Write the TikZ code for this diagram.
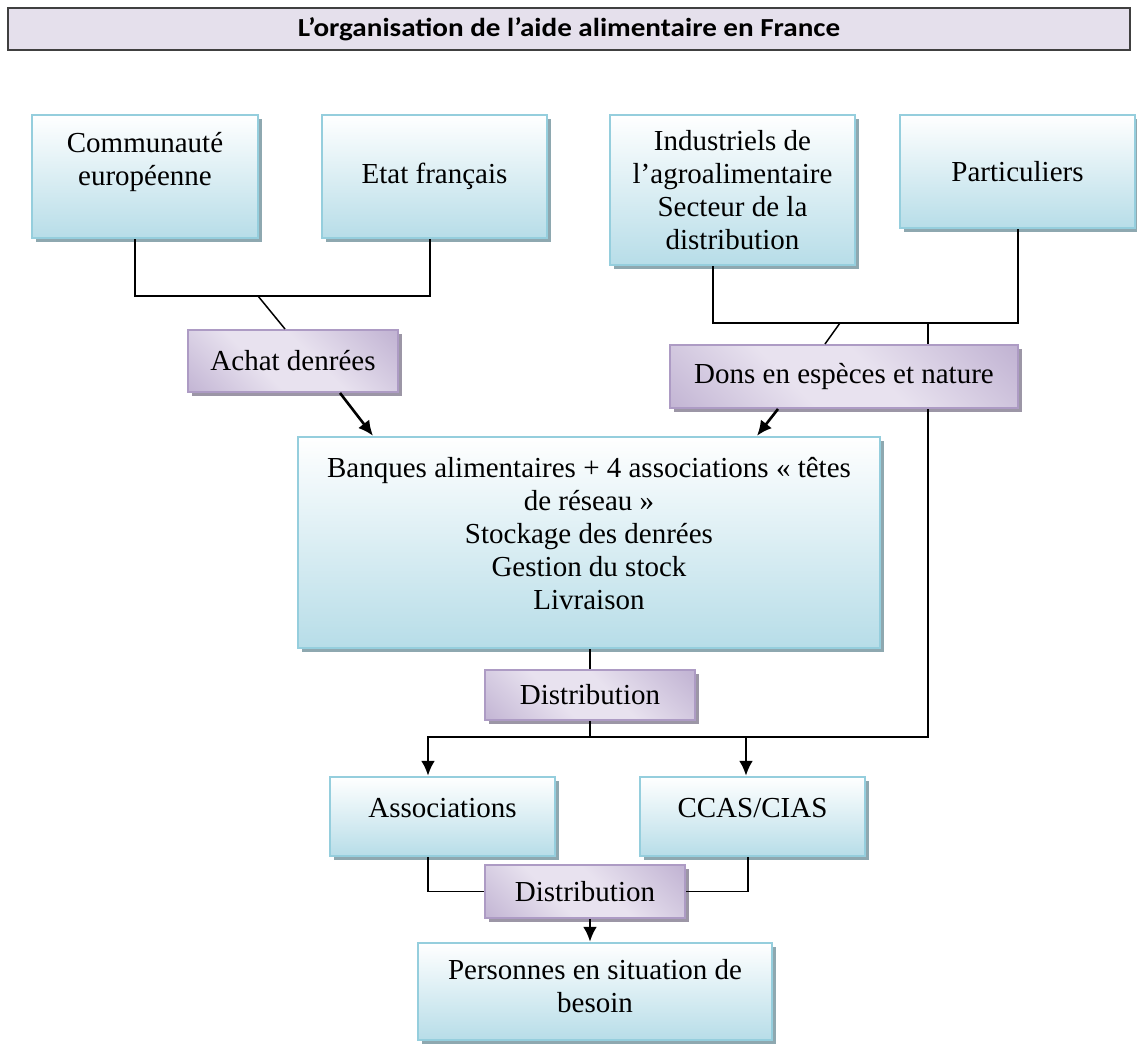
\documentclass[tikz,border=0pt]{standalone}
\usepackage{fontspec}
\setmainfont{Liberation Serif}
\newfontfamily\titrefont{Carlito}
\usepackage{tikz}
\usetikzlibrary{arrows.meta,shadows,calc}
\definecolor{bleubas}{HTML}{B7DDE8}
\definecolor{bleubord}{HTML}{95CEDD}
\definecolor{bleuombre}{HTML}{8EA8B0}
\definecolor{violetclair}{HTML}{E8E2EF}
\definecolor{violetfonce}{HTML}{AD9BC4}
\definecolor{violetombre}{HTML}{9C96A6}
\definecolor{titrefond}{HTML}{E5E0EC}
\pgfdeclareverticalshading{violetdiag}{100bp}{color(0bp)=(violetfonce); color(40bp)=(violetclair);
    color(56bp)=(violetclair); color(100bp)=(violetfonce)}

\begin{document}
\begin{tikzpicture}[x=0.5pt,y=-0.5pt,>={Latex[length=7.5pt,width=7pt]},
    boite/.style={rectangle,draw=bleubord,line width=1.2pt,top color=white,bottom color=bleubas,
        align=center,inner sep=2pt,font=\fontsize{14.5}{16.5}\selectfont,
        drop shadow={shadow xshift=1.8pt,shadow yshift=-1.8pt,fill=bleuombre,opacity=1}},
    etiquette/.style={rectangle,draw=violetfonce,line width=1pt,shade,shading=violetdiag,shading angle=-45,
        inner sep=2pt,font=\fontsize{14.5}{16.5}\selectfont,
        drop shadow={shadow xshift=1.8pt,shadow yshift=-1.8pt,fill=violetombre,opacity=1}},
    lien/.style={line width=0.75pt},
    fleche/.style={->,line width=1.3pt}]
    \useasboundingbox (0,0) rectangle (1137,1044);

    % titre
    \node[draw=black!75,line width=0.8pt,fill=titrefond,minimum width=561pt,minimum height=21pt,inner sep=0pt,
        font=\titrefont\bfseries\fontsize{13}{15}\selectfont] (titre) at (569,29)
        {\scalebox{1.12}[1]{L’organisation de l’aide alimentaire en France}};

    % sources
    \node[boite,minimum width=113pt,minimum height=61.5pt,text depth=18pt] (comm) at (145,176.5) {Communauté\\européenne};
    \node[boite,minimum width=112.5pt,minimum height=61.5pt] (etat) at (434.5,176.5) {Etat français};
    \node[boite,minimum width=122.5pt,minimum height=75pt] (indus) at (732.5,190)
        {Industriels de\\l’agroalimentaire\\Secteur de la\\distribution};
    \node[boite,minimum width=117.5pt,minimum height=56.5pt] (partic) at (1017.5,171.5) {Particuliers};

    % etiquettes du haut
    \node[etiquette,minimum width=105pt,minimum height=31pt] (achat) at (293,361) {Achat denrées};
    \node[etiquette,minimum width=174pt,minimum height=31.5pt] (dons) at (844,376.5) {Dons en espèces et nature};

    % centre
    \node[boite,minimum width=291pt,minimum height=105.5pt,text depth=9.5pt] (banq) at (589,542.5)
        {Banques alimentaires + 4 associations «~têtes\\de réseau~»\\Stockage des denrées\\Gestion du stock\\Livraison};
    \node[etiquette,minimum width=105pt,minimum height=25pt] (distA) at (590,695) {Distribution};

    % relais
    \node[boite,minimum width=112.5pt,minimum height=39.5pt,text depth=8.5pt] (assoc) at (442.5,816.5) {Associations};
    \node[boite,minimum width=112.5pt,minimum height=39.5pt,text depth=8.5pt] (ccas) at (752.5,816.5) {CCAS/CIAS};
    \node[etiquette,minimum width=100pt,minimum height=26.5pt] (distB) at (585,891.5) {Distribution};
    \node[boite,minimum width=177pt,minimum height=48.5pt,text depth=6pt] (pers) at (595,991.5)
        {Personnes en situation de\\besoin};

    % jonctions
    \coordinate (jA) at (258,296);
    \coordinate (jB) at (840,323);
    \coordinate (jD) at (928,323);
    \coordinate (jE) at (590,737);

    % achats
    \draw[lien] ($(comm.south)+(-10,0)$) |- (jA) -| ($(etat.south)+(-4.5,0)$);
    \draw[lien] (jA) -- ($(achat.north)+(-8,0)$);
    \draw[fleche] ($(achat.south)+(47,0)$) -- ($(banq.north)+(-216,0)$);

    % dons
    \draw[lien] ($(indus.south)+(-19.5,0)$) |- (jB) -| ($(partic.south)+(0.5,0)$);
    \draw[lien] (jB) -- ($(dons.north)+(-19,0)$);
    \draw[fleche] ($(dons.south)+(-66,0)$) -- ($(banq.north)+(168,0)$);
    \draw[lien] (jD) -- (jD |- dons.north);
    \draw[lien] (jD |- dons.south) |- (jE);

    % distribution
    \draw[lien] (banq.south -| jE) -- (distA.north -| jE);
    \draw[lien] (distA.south -| jE) -- (jE);
    \draw[fleche] (jE) -| ($(assoc.north)+(-14.5,0)$);
    \draw[fleche] (jE) -| ($(ccas.north)+(-6.5,0)$);

    % vers les personnes
    \draw[lien] ($(assoc.south)+(-14.5,0)$) |- (distB.west);
    \draw[lien] ($(ccas.south)+(-4.5,0)$) |- (distB.east);
    \draw[fleche] (distB.south -| jE) -- (pers.north -| jE);
\end{tikzpicture}
\end{document}
